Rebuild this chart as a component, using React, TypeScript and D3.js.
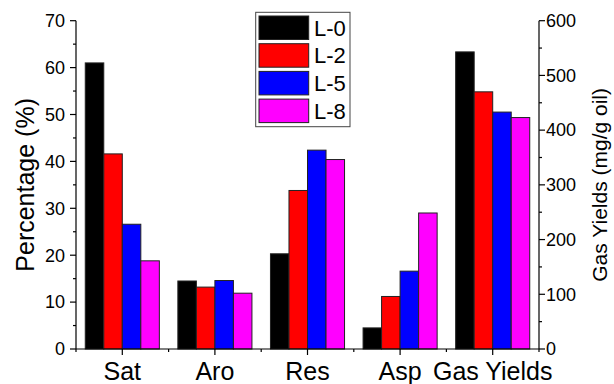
import React from "react";
import * as d3 from "d3";

// Fraction groups (left axis, %) followed by the gas-yield group (right axis, mg/g oil)
const categories = ["Sat", "Aro", "Res", "Asp", "Gas Yields"];
const seriesNames = ["L-0", "L-2", "L-5", "L-8"];
const seriesColors = ["#000000", "#ff0000", "#0000ff", "#ff00ff"];

const satValues = [61.0, 41.6, 26.6, 18.8];
const aroValues = [14.5, 13.2, 14.6, 11.9];
const resValues = [20.3, 33.8, 42.4, 40.4];
const aspValues = [4.5, 11.2, 16.6, 29.0];
const gasYieldValues = [543, 470, 433, 423];

const leftTicks = [0, 10, 20, 30, 40, 50, 60, 70];
const rightTicks = [0, 100, 200, 300, 400, 500, 600];

const W = 614;
const H = 384;
const plot = { left: 76, right: 539, top: 20.7, bottom: 349 };
const FONT = "'Liberation Sans', Arial, Helvetica, sans-serif";

export default function App() {
  const x = d3.scaleBand<string>().domain(categories).range([plot.left, plot.right]).padding(0);
  const bw = x.bandwidth();
  const inner = d3
    .scaleBand<string>()
    .domain(seriesNames)
    .range([bw * 0.1, bw * 0.9])
    .padding(0);
  const yL = d3.scaleLinear().domain([0, 70]).range([plot.bottom, plot.top]);
  const yR = d3.scaleLinear().domain([0, 600]).range([plot.bottom, plot.top]);

  const groups: { cat: string; vals: number[]; scale: d3.ScaleLinear<number, number> }[] = [
    { cat: "Sat", vals: satValues, scale: yL },
    { cat: "Aro", vals: aroValues, scale: yL },
    { cat: "Res", vals: resValues, scale: yL },
    { cat: "Asp", vals: aspValues, scale: yL },
    { cat: "Gas Yields", vals: gasYieldValues, scale: yR },
  ];

  const leftMinor = d3.range(5, 70, 10);
  const rightMinor = d3.range(50, 600, 100);
  const xMinor = categories.map((c) => x(c)!).concat([plot.right]);

  const legend = { x: 255.7, y: 12.3, w: 94.3, h: 114.4, row: 27.7 };

  return (
    <svg
      width={W}
      height={H}
      style={{ position: "absolute", left: 0, top: 0, background: "#fff" }}
      fontFamily={FONT}
    >
      {/* bars */}
      {groups.map((g) =>
        g.vals.map((v, i) => (
          <rect
            key={g.cat + i}
            x={x(g.cat)! + inner(seriesNames[i])!}
            y={g.scale(v)}
            width={inner.bandwidth()}
            height={plot.bottom - g.scale(v)}
            fill={seriesColors[i]}
            stroke="#222"
            strokeWidth={1}
          />
        ))
      )}

      {/* left axis */}
      <line x1={plot.left} x2={plot.left} y1={plot.top} y2={plot.bottom} stroke="#000" strokeWidth={1.2} />
      {leftTicks.map((t) => (
        <g key={"l" + t}>
          <line x1={plot.left - 6} x2={plot.left} y1={yL(t)} y2={yL(t)} stroke="#000" strokeWidth={1.2} />
          <text x={plot.left - 11} y={yL(t)} dy="0.35em" textAnchor="end" fontSize={18}>
            {t}
          </text>
        </g>
      ))}
      {leftMinor.map((t) => (
        <line key={"lm" + t} x1={plot.left - 3} x2={plot.left} y1={yL(t)} y2={yL(t)} stroke="#000" strokeWidth={1.2} />
      ))}

      {/* right axis */}
      <line x1={plot.right} x2={plot.right} y1={plot.top} y2={plot.bottom} stroke="#000" strokeWidth={1.2} />
      {rightTicks.map((t) => (
        <g key={"r" + t}>
          <line x1={plot.right} x2={plot.right + 6} y1={yR(t)} y2={yR(t)} stroke="#000" strokeWidth={1.2} />
          <text x={plot.right + 7} y={yR(t)} dy="0.35em" textAnchor="start" fontSize={18}>
            {t}
          </text>
        </g>
      ))}
      {rightMinor.map((t) => (
        <line key={"rm" + t} x1={plot.right} x2={plot.right + 3} y1={yR(t)} y2={yR(t)} stroke="#000" strokeWidth={1.2} />
      ))}

      {/* bottom axis */}
      <line x1={plot.left} x2={plot.right} y1={plot.bottom} y2={plot.bottom} stroke="#000" strokeWidth={1.2} />
      {categories.map((c) => {
        const cx = x(c)! + bw / 2;
        return (
          <g key={"b" + c}>
            <line x1={cx} x2={cx} y1={plot.bottom} y2={plot.bottom + 6} stroke="#000" strokeWidth={1.2} />
            <text x={cx} y={380} textAnchor="middle" fontSize={25}>
              {c}
            </text>
          </g>
        );
      })}
      {xMinor.map((mx, i) => (
        <line key={"bm" + i} x1={mx} x2={mx} y1={plot.bottom} y2={plot.bottom + 3} stroke="#000" strokeWidth={1.2} />
      ))}

      {/* axis titles */}
      <text
        transform={`translate(34, ${(plot.top + plot.bottom) / 2}) rotate(-90)`}
        textAnchor="middle"
        fontSize={25}
      >
        Percentage (%)
      </text>
      <text
        transform={`translate(607, ${(plot.top + plot.bottom) / 2}) rotate(-90)`}
        textAnchor="middle"
        fontSize={21}
      >
        Gas Yields (mg/g oil)
      </text>

      {/* legend */}
      <rect
        x={legend.x}
        y={legend.y}
        width={legend.w}
        height={legend.h}
        fill="#fff"
        stroke="#444"
        strokeWidth={1}
      />
      {seriesNames.map((s, i) => {
        const ry = 16 + i * legend.row;
        return (
          <g key={"lg" + s}>
            <rect x={259} y={ry} width={49.7} height={23.5} fill={seriesColors[i]} stroke="#222" strokeWidth={1} />
            <text x={314} y={ry + 11.75} dy="0.36em" fontSize={22}>
              {s}
            </text>
          </g>
        );
      })}
    </svg>
  );
}
